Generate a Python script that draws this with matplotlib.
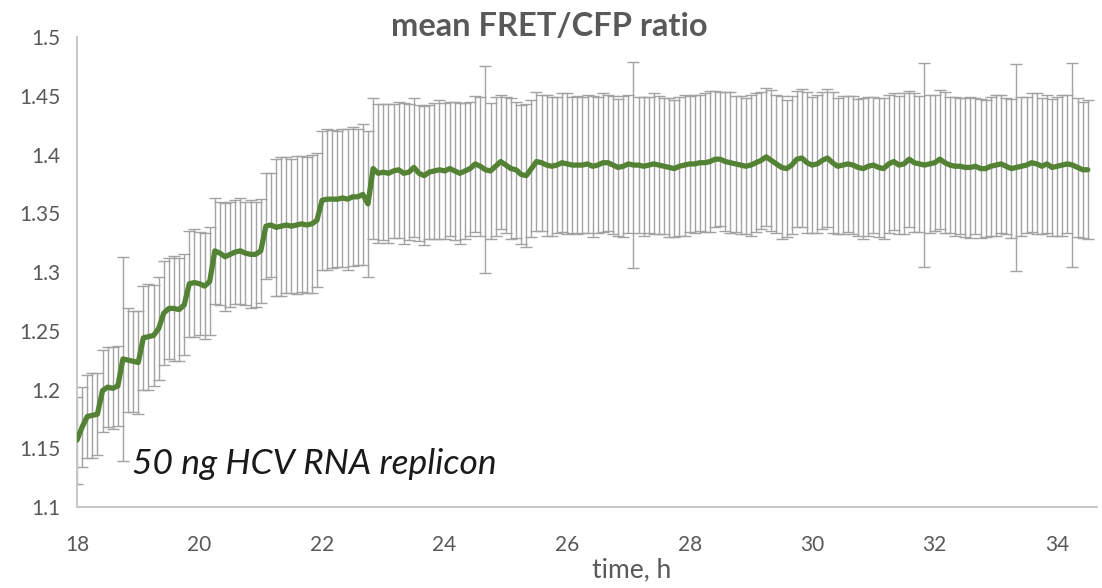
import numpy as np
import matplotlib
matplotlib.use("Agg")
import matplotlib.pyplot as plt

# Sampling: one frame every 5 minutes starting at 18 h
start_h = 18.0
step_min = 5.0

mean_ratio = [
    1.157, 1.168, 1.177, 1.178, 1.179, 1.199, 1.202, 1.201, 1.203, 1.226,
    1.225, 1.224, 1.223, 1.244, 1.245, 1.246, 1.252, 1.265, 1.269, 1.269,
    1.268, 1.272, 1.290, 1.291, 1.290, 1.288, 1.292, 1.318, 1.316, 1.313,
    1.315, 1.317, 1.318, 1.316, 1.315, 1.315, 1.318, 1.339, 1.340, 1.338,
    1.339, 1.340, 1.339, 1.340, 1.341, 1.340, 1.341, 1.344, 1.361, 1.362,
    1.362, 1.362, 1.363, 1.362, 1.364, 1.364, 1.366, 1.358, 1.388, 1.384,
    1.385, 1.384, 1.386, 1.387, 1.384, 1.385, 1.389, 1.384, 1.382, 1.385,
    1.386, 1.387, 1.386, 1.388, 1.386, 1.384, 1.386, 1.388, 1.392, 1.390,
    1.387, 1.386, 1.390, 1.394, 1.391, 1.388, 1.387, 1.383, 1.382, 1.388,
    1.394, 1.393, 1.391, 1.390, 1.391, 1.393, 1.392, 1.391, 1.391, 1.391,
    1.392, 1.390, 1.391, 1.393, 1.393, 1.391, 1.389, 1.390, 1.392, 1.391,
    1.391, 1.390, 1.391, 1.392, 1.391, 1.390, 1.389, 1.388, 1.390, 1.391,
    1.392, 1.392, 1.393, 1.393, 1.394, 1.396, 1.396, 1.394, 1.393, 1.392,
    1.391, 1.390, 1.391, 1.393, 1.395, 1.398, 1.395, 1.392, 1.389, 1.388,
    1.391, 1.396, 1.397, 1.393, 1.391, 1.392, 1.395, 1.397, 1.393, 1.390,
    1.391, 1.392, 1.391, 1.389, 1.388, 1.390, 1.391, 1.389, 1.388, 1.392,
    1.394, 1.391, 1.392, 1.396, 1.393, 1.392, 1.391, 1.392, 1.393, 1.396,
    1.393, 1.391, 1.390, 1.390, 1.389, 1.389, 1.390, 1.388, 1.388, 1.390,
    1.391, 1.392, 1.390, 1.388, 1.389, 1.390, 1.391, 1.393, 1.392, 1.390,
    1.392, 1.389, 1.390, 1.391, 1.392, 1.391, 1.389, 1.387, 1.387,
]

ratio_sd = [
    0.037, 0.034, 0.035, 0.036, 0.035, 0.035, 0.034, 0.035, 0.034, 0.087,
    0.044, 0.043, 0.044, 0.044, 0.045, 0.043, 0.044, 0.044, 0.043, 0.045,
    0.044, 0.043, 0.045, 0.046, 0.044, 0.045, 0.046, 0.045, 0.044, 0.046,
    0.045, 0.044, 0.045, 0.044, 0.046, 0.045, 0.044, 0.045, 0.044, 0.058,
    0.059, 0.058, 0.057, 0.059, 0.058, 0.058, 0.059, 0.057, 0.059, 0.060,
    0.059, 0.058, 0.059, 0.060, 0.059, 0.058, 0.060, 0.062, 0.060, 0.059,
    0.058, 0.059, 0.057, 0.058, 0.060, 0.058, 0.059, 0.058, 0.059, 0.057,
    0.058, 0.059, 0.058, 0.057, 0.059, 0.060, 0.058, 0.057, 0.058, 0.059,
    0.088, 0.058, 0.059, 0.057, 0.058, 0.060, 0.058, 0.059, 0.061, 0.058,
    0.059, 0.058, 0.060, 0.059, 0.058, 0.059, 0.060, 0.058, 0.059, 0.058,
    0.059, 0.060, 0.058, 0.059, 0.058, 0.059, 0.058, 0.060, 0.059, 0.088,
    0.058, 0.059, 0.058, 0.060, 0.059, 0.058, 0.059, 0.058, 0.059, 0.060,
    0.058, 0.059, 0.058, 0.059, 0.060, 0.058, 0.057, 0.059, 0.060, 0.058,
    0.059, 0.058, 0.060, 0.059, 0.058, 0.059, 0.060, 0.059, 0.061, 0.058,
    0.059, 0.058, 0.059, 0.060, 0.058, 0.059, 0.058, 0.059, 0.060, 0.058,
    0.059, 0.058, 0.059, 0.058, 0.060, 0.059, 0.058, 0.059, 0.060, 0.059,
    0.058, 0.059, 0.060, 0.058, 0.059, 0.058, 0.087, 0.059, 0.058, 0.059,
    0.060, 0.058, 0.059, 0.058, 0.059, 0.060, 0.058, 0.059, 0.058, 0.059,
    0.060, 0.059, 0.058, 0.059, 0.088, 0.059, 0.058, 0.059, 0.060, 0.058,
    0.059, 0.058, 0.059, 0.060, 0.059, 0.087, 0.059, 0.058, 0.059,
]

x_ticks = [18, 20, 22, 24, 26, 28, 30, 32, 34]
y_ticks = [1.1, 1.15, 1.2, 1.25, 1.3, 1.35, 1.4, 1.45, 1.5]
y_tick_labels = ["1.1", "1.15", "1.2", "1.25", "1.3", "1.35", "1.4", "1.45", "1.5"]

time_h = start_h + np.arange(len(mean_ratio)) * step_min / 60.0

plt.rcParams["font.family"] = ["Lato", "DejaVu Sans"]
text_grey = "#595959"

fig = plt.figure(figsize=(11.02, 5.88), dpi=100)
ax = fig.add_axes([77 / 1102, 1 - 507 / 588, (1097 - 77) / 1102, (507 - 37) / 588])

ax.errorbar(time_h, mean_ratio, yerr=ratio_sd, fmt="none", ecolor="#a3a3a3",
            elinewidth=1.0, capsize=4.0, capthick=1.0, zorder=2)
ax.plot(time_h, mean_ratio, color="#548235", linewidth=3.8,
        solid_joinstyle="round", solid_capstyle="round", zorder=3)

ax.set_xlim(18, 34.65)
ax.set_ylim(1.1, 1.5)
ax.set_xticks(x_ticks)
ax.set_xticklabels([str(v) for v in x_ticks])
ax.set_yticks(y_ticks)
ax.set_yticklabels(y_tick_labels)
ax.tick_params(axis="both", length=0, labelsize=15, colors=text_grey)
ax.tick_params(axis="x", pad=20)
ax.tick_params(axis="y", pad=12)

for side in ("top", "right"):
    ax.spines[side].set_visible(False)
for side in ("left", "bottom"):
    ax.spines[side].set_color("#c8c8c8")
    ax.spines[side].set_linewidth(1.4)

fig.text(549 / 1102, 1 - 27 / 588, "mean FRET/CFP ratio", ha="center", va="center",
         fontsize=23.5, fontweight="bold", color=text_grey)
fig.text(632 / 1102, 1 - 570 / 588, "time, h", ha="center", va="center",
         fontsize=19, color=text_grey)
ax.text(0.0535, 0.07, "50 ng HCV RNA replicon", transform=ax.transAxes,
        ha="left", va="baseline", fontsize=25.5, fontstyle="italic", color="#1a1a1a")

fig.savefig("out.png", dpi=100)
